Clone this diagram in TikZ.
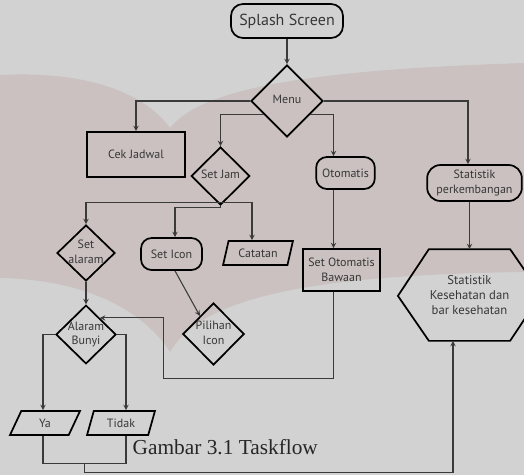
\documentclass[tikz,border=0pt]{standalone}
\usepackage{fontspec}
\setmainfont{Liberation Serif}
\newfontfamily\flowfont{PT Sans}
\usetikzlibrary{shapes.geometric,calc}
\definecolor{bggray}{RGB}{210,210,210}
\definecolor{wmpink}{RGB}{203,193,193}
\definecolor{inkgray}{RGB}{58,58,58}
\definecolor{txtgray}{RGB}{55,55,55}
\newcommand{\diatext}[1]{\makebox[0pt]{\begin{tabular}{@{}c@{}}#1\end{tabular}}}
\begin{document}
\begin{tikzpicture}[>=stealth,x=0.75pt,y=-0.75pt,
    box/.style={draw=black,line width=1.3pt,rectangle,inner sep=2pt,align=center,
      font=\flowfont\fontsize{9}{11}\selectfont,text=txtgray},
    roundbox/.style={box,rounded corners=8pt},
    decision/.style={box,diamond,inner sep=0pt},
    slantbox/.style={box,trapezium,trapezium left angle=70,trapezium right angle=110,
      trapezium stretches=true,inner ysep=1pt},
    link/.style={draw=inkgray,line width=0.8pt}]
    \useasboundingbox (0,0) rectangle (524,475);
    \clip (0,0) rectangle (524,475);
    % latar dan watermark
    \fill[bggray] (0,0) rectangle (524,475);
    \fill[wmpink] (0,75) .. controls (100,70) and (150,100) .. (170,128)
        .. controls (200,90) and (300,70) .. (524,63) -- (524,272)
        .. controls (300,275) and (200,300) .. (170,352)
        .. controls (150,320) and (100,280) .. (0,278) -- cycle;
    % node
    \node[roundbox,minimum width=84pt,minimum height=25.5pt,rounded corners=9pt,
        font=\flowfont\fontsize{12}{14}\selectfont] (splash) at (287,21) {Splash Screen};
    \node[decision,minimum width=54pt,minimum height=54pt] (menu) at (287,101) {\diatext{Menu}};
    \node[box,minimum width=73.5pt,minimum height=33.75pt] (cek) at (136,154.5) {Cek Jadwal};
    \node[decision,minimum width=44pt,minimum height=43.5pt] (setjam) at (220.5,176) {\diatext{Set Jam}};
    \node[roundbox,minimum width=44pt,minimum height=24pt] (otomatis) at (345.5,173) {Otomatis};
    \node[roundbox,minimum width=71pt,minimum height=27pt,rounded corners=10pt] (statp) at (474.5,183) {Statistik\\perkembangan};
    \node[decision,minimum width=43.5pt,minimum height=42pt] (setalaram) at (86,253) {\diatext{Set\\alaram}};
    \node[roundbox,minimum width=45.75pt,minimum height=24pt] (seticon) at (171.5,254) {Set Icon};
    \node[slantbox,minimum width=52.5pt,minimum height=18pt] (catatan) at (258,253) {Catatan};
    \node[box,minimum width=57.75pt,minimum height=31.5pt] (setoto) at (341.5,270) {Set Otomatis\\Bawaan};
    \node[decision,minimum width=45pt,minimum height=44pt] (alaram) at (86,334.5) {\diatext{Alaram\\Bunyi}};
    \node[decision,minimum width=46pt,minimum height=46.5pt] (pilihan) at (213.5,334) {\diatext{Pilihan\\Icon}};
    \node[box,draw=none,minimum width=48.75pt,minimum height=67.5pt,inner sep=0pt,
        font=\flowfont\fontsize{9.5}{11.25}\selectfont] (hex) at (469.5,295) {Statistik\\Kesehatan dan\\bar kesehatan};
    \draw[line width=1.3pt] (hex.north west) -- (hex.north east) -- ++(31,45)
        -- (hex.south east) -- (hex.south west) -- ++(-31,-45) -- cycle;
    \node[slantbox,minimum width=52.5pt,minimum height=18pt] (ya) at (45,423) {Ya};
    \node[slantbox,minimum width=51pt,minimum height=18pt] (tidak) at (121,423) {Tidak};
    \node[anchor=base west,font=\fontsize{16}{19}\selectfont,text=black!85] (caption) at (128,454) {Gambar 3.1 Taskflow};
    % panah
    \draw[link,->] (splash) -- (menu);
    \draw[link,->] (menu.west) -| (cek.north);
    \draw[link,->] (menu.210) -| (setjam.north);
    \draw[link,->] (menu.-30) -| ($(otomatis.north)+(-12,0)$);
    \draw[link,->] (menu.east) -| ($(statp.north)+(-6.5,0)$);
    \draw[link,->] ($(otomatis.south)+(-12,0)$) -- ($(setoto.north)+(-8,0)$);
    \draw[link,->] (hex.north |- statp.south) -- (hex.north);
    \coordinate (sjbar) at ($(setjam.south)+(0,-3)$);
    \draw[link,->] (sjbar) -| (setalaram.north);
    \draw[link,->] (sjbar) -| ($(catatan.north)+(-6,0)$);
    \draw[link,->] (setjam.south) -- ++(0,2) -| ($(seticon.north)+(3.5,0)$);
    \draw[link,->] ($(seticon.south)+(3.5,0)$) -- (pilihan.127);
    \draw[link,->] (setalaram) -- (alaram);
    \draw[link,->] ($(setoto.south)+(-8,0)$) -- ++(0,87) -- ++(-170,0) |- (alaram.50);
    \draw[link,->] (alaram.west) -| ($(ya.north)+(-2,0)$);
    \draw[link,->] (alaram.east) -| ($(tidak.north)+(5,0)$);
    \draw[link] ($(ya.south)+(-2,0)$) -- ++(0,28) -| ($(tidak.south)+(5,0)$);
    \coordinate (yajoin) at ($(ya.south)!0.5!(tidak.south)+(1.5,28)$);
    \draw[link,->] (yajoin) -- ++(0,9) -| ($(hex.south)+(-16.5,0)$);
\end{tikzpicture}
\end{document}
